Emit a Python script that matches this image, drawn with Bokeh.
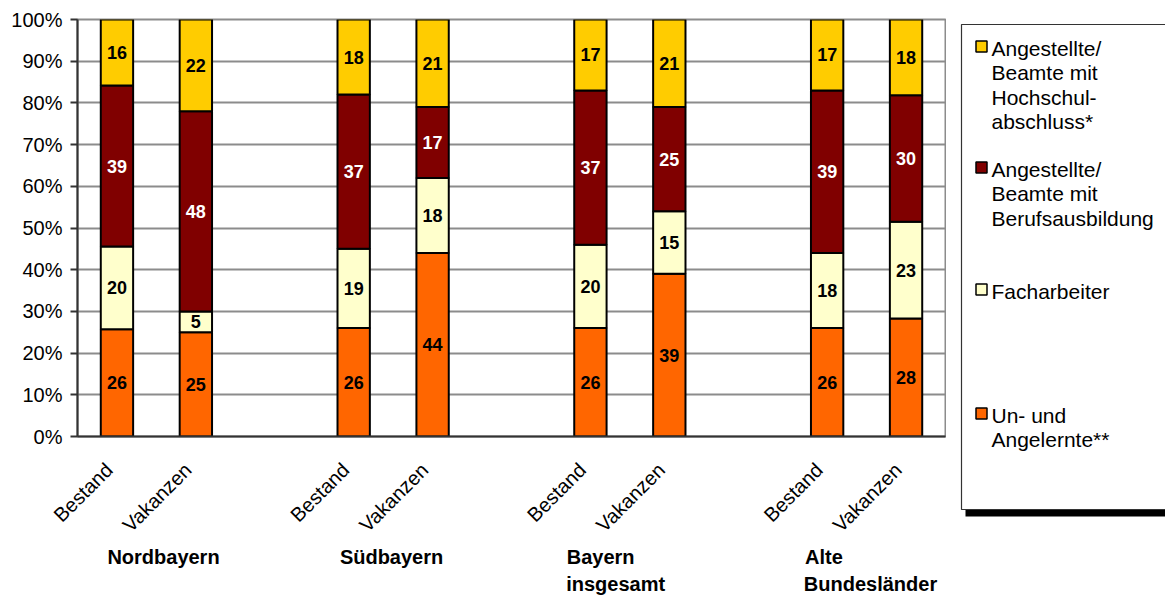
import math
from bokeh.plotting import figure
from bokeh.models import (ColumnDataSource, Range1d, FixedTicker, PrintfTickFormatter, LinearAxis)
from bokeh.layouts import row
from bokeh.core.properties import value
from bokeh.embed import file_html
from bokeh.resources import INLINE

# ---------------- data ----------------
groups = ["Nordbayern", "Südbayern", "Bayern insgesamt", "Alte Bundesländer"]
group_line1 = ["Nordbayern", "Südbayern", "Bayern", "Alte"]
group_line2 = ["", "", "insgesamt", "Bundesländer"]
bar_types = ["Bestand", "Vakanzen"]
series = ["Un- und Angelernte**", "Facharbeiter",
          "Angestellte/ Beamte mit Berufsausbildung",
          "Angestellte/ Beamte mit Hochschulabschluss*"]
# values per bar: Nord B, Nord V, Süd B, Süd V, Bayern B, Bayern V, Alte B, Alte V
un_angelernte = [26, 25, 26, 44, 26, 39, 26, 28]
facharbeiter = [20, 5, 19, 18, 20, 15, 18, 23]
beruf = [39, 48, 37, 17, 37, 25, 39, 30]
hochschul = [16, 22, 18, 21, 17, 21, 17, 18]
y_ticks = [0, 10, 20, 30, 40, 50, 60, 70, 80, 90, 100]

colors = ["#FF6600", "#FFFFCC", "#800000", "#FFCC00"]
label_colors = ["black", "black", "white", "black"]
FONT = "Liberation Sans"

# ---------------- layout helpers ----------------
n_slots = 11
xs = []
for g in range(len(groups)):
    for k in range(len(bar_types)):
        xs.append(g * 3 + k + 0.5)
label_shift = -0.1
tick_pos = [x + label_shift for x in xs]
tick_labels = {t: bar_types[i % 2] for i, t in enumerate(tick_pos)}

p = figure(width=946, height=597, output_backend="svg", toolbar_location=None,
           x_range=Range1d(0, n_slots), y_range=Range1d(0, 100),
           min_border_left=77, min_border_right=1, min_border_top=19,
           min_border_bottom=161, background_fill_color="white",
           border_fill_color="white")
p.frame_align = False
p.outline_line_color = "#8c8c8c"
p.outline_line_width = 2

# stacked, normalised to 100 %
all_series = [un_angelernte, facharbeiter, beruf, hochschul]
totals = [sum(v[i] for v in all_series) for i in range(len(xs))]
bottoms = [0.0] * len(xs)
for s_idx, vals in enumerate(all_series):
    tops = [bottoms[i] + vals[i] / totals[i] * 100 for i in range(len(xs))]
    src = ColumnDataSource(dict(x=xs, bottom=bottoms, top=tops,
                                mid=[(b + t) / 2 for b, t in zip(bottoms, tops)],
                                txt=[str(v) for v in vals]))
    p.vbar(x="x", width=0.41, bottom="bottom", top="top", source=src,
           fill_color=colors[s_idx], line_color="black", line_width=2)
    p.text(x="x", y="mid", text="txt", source=src, text_align="center",
           text_baseline="middle", text_font=value(FONT), text_font_style="bold",
           text_font_size="18px", text_color=label_colors[s_idx])
    bottoms = tops

# grid
p.xgrid.visible = False
p.ygrid.ticker = FixedTicker(ticks=y_ticks)
p.ygrid.grid_line_color = "#8c8c8c"
p.ygrid.grid_line_width = 2
p.ygrid.level = "underlay"

# y axis
p.yaxis.ticker = FixedTicker(ticks=y_ticks)
p.yaxis.formatter = PrintfTickFormatter(format="%d%%")
p.yaxis.major_label_text_font = FONT
p.yaxis.major_label_text_font_size = "20px"
p.yaxis.major_label_text_color = "black"
p.yaxis.major_tick_out = 7
p.yaxis.major_tick_in = 0
p.yaxis.minor_tick_out = 0
p.yaxis.minor_tick_in = 0
p.yaxis.major_label_standoff = 8
p.yaxis.axis_line_color = "#333333"
p.yaxis.axis_line_width = 2
p.yaxis.major_tick_line_color = "#333333"
p.yaxis.major_tick_line_width = 2

# x axis (bar labels)
p.xaxis.ticker = FixedTicker(ticks=tick_pos)
p.xaxis.major_label_overrides = tick_labels
p.xaxis.major_label_orientation = math.pi / 4
p.xaxis.major_label_text_font = FONT
p.xaxis.major_label_text_font_size = "20px"
p.xaxis.major_label_text_color = "black"
p.xaxis.major_tick_out = 0
p.xaxis.major_tick_in = 0
p.xaxis.minor_tick_out = 0
p.xaxis.minor_tick_in = 0
p.xaxis.major_label_standoff = 30
p.xaxis.axis_line_color = "#333333"
p.xaxis.axis_line_width = 2

# group label axes (text centres of the left-aligned blocks)
line1_centres = [1.09, 3.98, 6.63, 9.46]
line2_centres = [None, None, 6.82, 10.05]
for line_texts, centres, standoff in ((group_line1, line1_centres, -1),
                                      (group_line2, line2_centres, 2)):
    ticks = [centres[i] for i, t in enumerate(line_texts) if t]
    ax = LinearAxis(ticker=FixedTicker(ticks=ticks),
                    major_label_overrides={centres[i]: t for i, t in enumerate(line_texts) if t})
    ax.axis_line_color = None
    ax.major_tick_line_color = None
    ax.minor_tick_line_color = None
    ax.major_tick_out = 0
    ax.major_tick_in = 0
    ax.minor_tick_out = 0
    ax.minor_tick_in = 0
    ax.major_label_standoff = standoff
    ax.major_label_text_font = FONT
    ax.major_label_text_font_style = "bold"
    ax.major_label_text_font_size = "20px"
    ax.major_label_text_color = "black"
    p.add_layout(ax, "below")

# ---------------- legend panel ----------------
lg = figure(width=219, height=597, output_backend="svg", toolbar_location=None,
            x_range=Range1d(946, 1165), y_range=Range1d(597, 0),
            min_border=0, min_border_left=0, min_border_right=0,
            min_border_top=0, min_border_bottom=0)
lg.frame_align = False
lg.axis.visible = False
lg.grid.visible = False
lg.outline_line_color = None
lg.quad(left=[965], right=[1175], top=[509], bottom=[516], fill_color="black",
        line_color=None)
lg.quad(left=[961], right=[1175], top=[24], bottom=[509], fill_color="white",
        line_color="#333333", line_width=1.2)

legend_lines = [
    ["Angestellte/", "Beamte mit", "Hochschul-", "abschluss*"],
    ["Angestellte/", "Beamte mit", "Berufsausbildung"],
    ["Facharbeiter"],
    ["Un- und", "Angelernte**"],
]
legend_colors = [colors[3], colors[2], colors[1], colors[0]]
marker_y = [46, 167, 289, 413]
for i, lines in enumerate(legend_lines):
    lg.rect(x=[981], y=[marker_y[i]], width=11, height=11, fill_color=legend_colors[i],
            line_color="black", line_width=1.5)
    ly = [marker_y[i] + 1.5 + k * 24.5 for k in range(len(lines))]
    lg.text(x=[991] * len(lines), y=ly, text=lines, text_align="left",
            text_baseline="middle", text_font=value(FONT), text_font_size="21px",
            text_color="black")

layout = row(p, lg, spacing=0)
open("out.html", "w").write(file_html(layout, INLINE))
